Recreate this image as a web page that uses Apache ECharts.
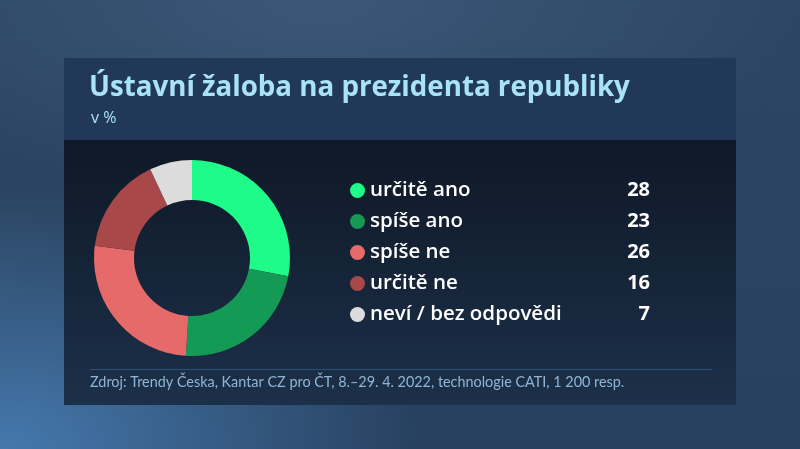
<!DOCTYPE html>
<html>
<head>
<meta charset="utf-8">
<script src="https://cdn.jsdelivr.net/npm/echarts@6/dist/echarts.min.js"></script>
<style>
html,body{margin:0;padding:0;width:800px;height:449px;overflow:hidden;}
body{background:
 radial-gradient(ellipse 420px 260px at 0% 100%, rgba(80,140,200,0.75) 0%, rgba(80,140,200,0) 100%),
 radial-gradient(ellipse 500px 200px at 40% 0%, rgba(70,100,135,0.6) 0%, rgba(70,100,135,0) 100%),
 linear-gradient(180deg,#2c4562 0%,#2a4360 60%,#27405f 100%);}
#c{width:800px;height:449px;}
</style>
</head>
<body>
<div id="c"></div>
<script>
const categories = ['určitě ano','spíše ano','spíše ne','určitě ne','neví / bez odpovědi'];
const values = [28,23,26,16,7];
const colors = ['#1ffb88','#159a55','#e66a6a','#a84848','#dcdcdc'];
const titleText = 'Ústavní žaloba na prezidenta republiky';
const subtitleText = 'v %';
const sourceText = 'Zdroj: Trendy Česka, Kantar CZ pro ČT, 8.–29. 4. 2022, technologie CATI, 1 200 resp.';

const chart = echarts.init(document.getElementById('c'));
const valMap = {};
categories.forEach((c,i)=>valMap[c]=values[i]);

chart.setOption({
  backgroundColor:'transparent',
  graphic:[
    {type:'rect',shape:{x:64,y:58,width:672,height:82},style:{fill:'#213858'},z:0,silent:true},
    {type:'rect',shape:{x:64,y:140,width:672,height:265},style:{fill:new echarts.graphic.LinearGradient(0,0,0,1,[{offset:0,color:'#0f1827'},{offset:1,color:'#1c3049'}])},z:0,silent:true},
    {type:'rect',shape:{x:90,y:369,width:622,height:1},style:{fill:'#2c5380'},z:1,silent:true},
    {type:'text',left:89,top:74,style:{text:titleText,font:'bold 27.7px "Open Sans"',fill:'#a9e3f7'},z:2},
    {type:'text',left:91,top:110,style:{text:subtitleText,font:'16px "Open Sans"',fill:'#a9e3f7'},z:2},
    {type:'text',left:90,top:375,style:{text:sourceText,font:'14.4px Lato',fill:'#8fb6d6'},z:2}
  ],
  legend:{
    orient:'vertical',
    left:345,top:175,
    icon:'circle',itemWidth:15,itemHeight:15,itemGap:10,
    data:categories,
    formatter:function(n){return '{n|'+n+'}{v|'+valMap[n]+'}';},
    textStyle:{
      color:'#ffffff',
      rich:{
        n:{fontFamily:'Open Sans',fontSize:20.5,fontWeight:600,color:'#ffffff',width:252,height:22.5},
        v:{fontFamily:'Open Sans',fontSize:20,fontWeight:'bold',color:'#ffffff',width:28,align:'right',height:22.5}
      }
    },
    selectedMode:false
  },
  series:[{
    type:'pie',
    center:[192,258],
    radius:[58,98],
    startAngle:90,
    clockwise:true,
    label:{show:false},
    labelLine:{show:false},
    emphasis:{disabled:true},
    silent:true,
    itemStyle:{borderWidth:0},
    data:categories.map((c,i)=>({name:c,value:values[i],itemStyle:{color:colors[i]}}))
  }]
});
</script>
</body>
</html>
